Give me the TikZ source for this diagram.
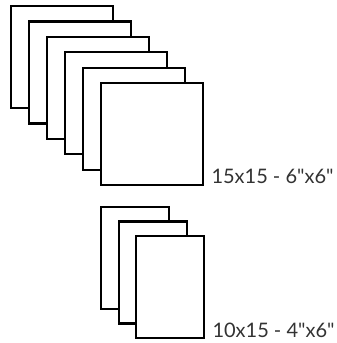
\documentclass[tikz,border=0pt]{standalone}
\usepackage{fontspec}
\setmainfont{Lato}
\begin{document}
\begin{tikzpicture}[
		x=1pt, y=-1pt,
		paper/.style={rectangle, draw=black, fill=white, line width=2.2pt, inner sep=0pt, outer sep=0pt, anchor=north west},
		square/.style={paper, minimum width=102pt, minimum height=102pt},
		portrait/.style={paper, minimum width=68pt, minimum height=102pt},
		sizelabel/.style={anchor=base west, inner sep=0pt, text=black!80, font=\fontsize{20}{20}\selectfont}
		]
		\useasboundingbox (0,0) rectangle (337,343);
		
		% 15x15 stack
		\node[square] (sqa) at (10.7,6) {};
		\node[square] (sqb) at (28.8,21.4) {};
		\node[square] (sqc) at (46.9,36.8) {};
		\node[square] (sqd) at (65.0,52.2) {};
		\node[square] (sqe) at (83.1,67.6) {};
		\node[square] (sqf) at (101.3,83) {};
		\node[sizelabel] (lblsq) at ([xshift=8pt, yshift=2pt]sqf.south east) {15x15 - 6\textquotedbl x6\textquotedbl};
		
		% 10x15 stack
		\node[portrait] (pta) at (101.3,207.2) {};
		\node[portrait] (ptb) at (118.8,221.4) {};
		\node[portrait] (ptc) at (136.3,235.6) {};
		\node[sizelabel] (lblpt) at ([xshift=8pt, yshift=0pt]ptc.south east) {10x15 - 4\textquotedbl x6\textquotedbl};
	\end{tikzpicture}
\end{document}
